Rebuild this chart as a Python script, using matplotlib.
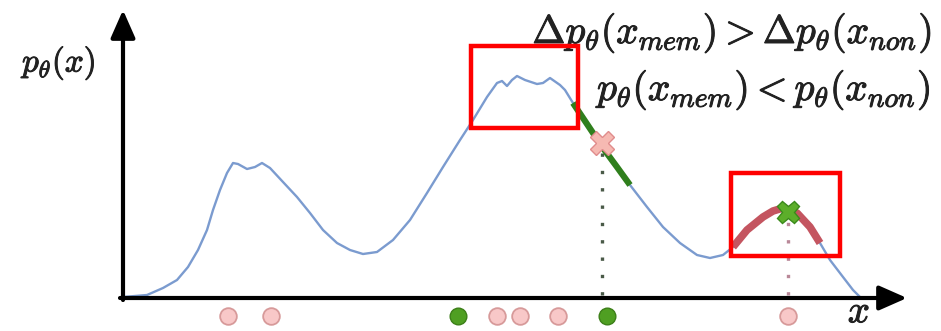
import numpy as np
import matplotlib.pyplot as plt
import matplotlib.patheffects as pe
from matplotlib.patches import Rectangle

plt.rcParams['mathtext.fontset'] = 'cm'

# density curve (x along the axis, height above it)
curve_x = [0.00, 0.24, 0.40, 0.54, 0.65, 0.75, 0.84, 0.90, 0.97, 1.04, 1.10, 1.15,
           1.24, 1.32, 1.39, 1.47, 1.60, 1.74, 1.87, 2.00, 2.14, 2.27, 2.40, 2.54,
           2.70, 2.87, 3.04, 3.20, 3.37, 3.50, 3.64, 3.74, 3.79, 3.84, 3.89, 3.94,
           4.02, 4.14, 4.20, 4.27, 4.37, 4.42, 4.50, 4.64, 4.80, 4.94, 5.07, 5.24,
           5.40, 5.57, 5.74, 5.87, 6.00, 6.10, 6.24, 6.40, 6.50, 6.60, 6.74, 6.87,
           6.97, 7.07, 7.20, 7.30, 7.37]
curve_y = [0.01, 0.03, 0.10, 0.18, 0.31, 0.48, 0.68, 0.88, 1.08, 1.25, 1.35, 1.34,
           1.29, 1.31, 1.35, 1.30, 1.16, 1.01, 0.85, 0.68, 0.55, 0.48, 0.44, 0.46,
           0.58, 0.78, 1.05, 1.31, 1.58, 1.78, 2.01, 2.15, 2.17, 2.12, 2.18, 2.22,
           2.18, 2.14, 2.15, 2.20, 2.13, 2.08, 1.95, 1.74, 1.50, 1.31, 1.13, 0.91,
           0.71, 0.55, 0.43, 0.40, 0.43, 0.51, 0.68, 0.81, 0.87, 0.90, 0.85, 0.71,
           0.55, 0.38, 0.21, 0.08, 0.01]

# highlighted stretches of the curve
green_span = (4.50, 5.08)
red_span = (6.10, 6.97)

# samples on the x axis
samples_x = [1.05, 1.48, 3.35, 3.74, 3.97, 4.35, 4.84, 6.65]
samples_mem = [False, False, True, False, False, False, True, False]

# the two x marks on the curve
mark_pink = (4.79, 1.55)
mark_green = (6.65, 0.86)

# red boxes (x0, y0, x1, y1)
boxes = [(3.48, 1.70, 4.55, 2.52), (6.08, 0.42, 7.17, 1.25)]

line1 = r'$\Delta p_\theta(x_{mem}) > \Delta p_\theta(x_{non})$'
line2 = r'$p_\theta(x_{mem}) < p_\theta(x_{non})$'

fig = plt.figure(figsize=(9.41, 3.31), dpi=100)
ax = fig.add_axes([0, 0, 1, 1])
ax.set_xlim(-1.23, 8.18)
ax.set_ylim(-0.33, 2.98)
ax.axis('off')

cx = np.array(curve_x)
cy = np.array(curve_y)
ax.plot(cx, cy, color='#7b9bcf', lw=1.7, solid_joinstyle='round', zorder=2)

m = (cx >= green_span[0]) & (cx <= green_span[1])
ax.plot(cx[m], cy[m], color='#2f7f1c', lw=4.5, solid_capstyle='butt', zorder=3)
m = (cx >= red_span[0]) & (cx <= red_span[1])
ax.plot(cx[m], cy[m], color='#c45560', lw=5.5, solid_capstyle='butt',
        solid_joinstyle='round', zorder=3)

# dotted drop lines
ax.plot([mark_pink[0], mark_pink[0]], [0.03, mark_pink[1] - 0.1], color='#4a5a48',
        lw=2.4, ls=(0, (1, 4.2)), zorder=2)
ax.plot([mark_green[0], mark_green[0]], [0.03, mark_green[1] - 0.1], color='#b98898',
        lw=2.4, ls=(0, (1, 4.2)), zorder=2)

ax.plot(*mark_pink, marker='X', ms=17, mfc='#f6b9b2', mec='#e08c8c', mew=1, zorder=4)
ax.plot(*mark_green, marker='X', ms=16, mfc='#5cae2a', mec='#3b8a1c', mew=1, zorder=4)

for x, mem in zip(samples_x, samples_mem):
    if mem:
        ax.plot(x, -0.18, 'o', ms=12, mfc='#4f9f22', mec='#3c7f18', mew=1)
    else:
        ax.plot(x, -0.18, 'o', ms=12, mfc='#f8c8c8', mec='#d79a9a', mew=1.3)

for x0, y0, x1, y1 in boxes:
    ax.add_patch(Rectangle((x0, y0), x1 - x0, y1 - y0, fill=False,
                           ec='#ff0000', lw=3.2, zorder=5))

# axes arrows
arrow = dict(arrowstyle='-|>,head_length=1.7,head_width=0.75', color='black',
             lw=3, shrinkA=0, shrinkB=0)
ax.annotate('', xy=(0, 2.88), xytext=(0, -0.02), arrowprops=arrow)
ax.annotate('', xy=(7.84, 0), xytext=(-0.03, 0), arrowprops=arrow)

bold = [pe.withStroke(linewidth=0.7, foreground='#222222')]
ax.text(8.09, 2.65, line1, ha='right', va='center', fontsize=28.5, color='#222222',
        path_effects=bold)
ax.text(8.09, 2.08, line2, ha='right', va='center', fontsize=28.5, color='#222222',
        path_effects=bold)
ax.text(-1.01, 2.35, r'$p_\theta(x)$', ha='left', va='center', fontsize=24,
        color='#222222', path_effects=bold)
ax.text(7.36, -0.325, r'$x$', ha='center', va='bottom', fontsize=28, color='#222222',
        path_effects=bold)

fig.savefig('out.png', dpi=100)
